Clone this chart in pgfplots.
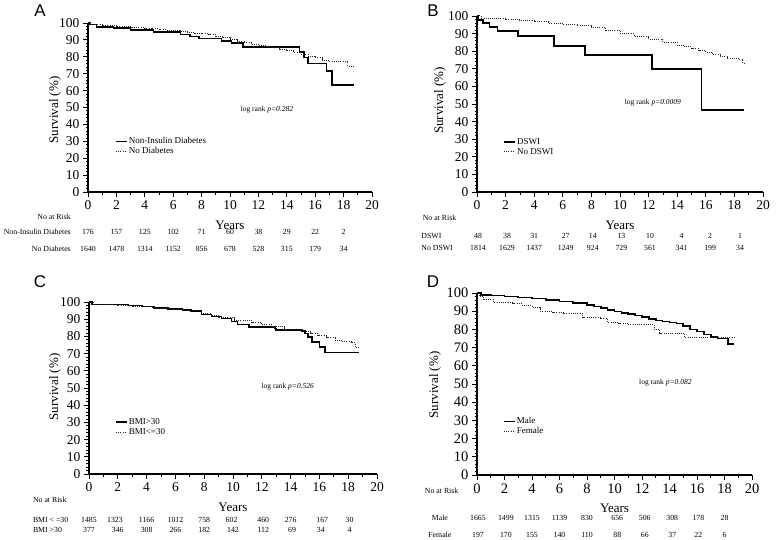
\documentclass[border=0pt]{standalone}
\usepackage{fontspec}
\setmainfont{Liberation Serif}
\newfontfamily\arialf{Liberation Sans}
\usepackage{pgfplots}
\pgfplotsset{compat=1.18}
\newcommand\riskfont{\fontsize{7.8}{8}\selectfont}
\newcommand\riskrow[2]{\foreach \xx/\vv in {#2}{\edef\tmp{\noexpand\node[font=\noexpand\riskfont,anchor=center,inner sep=0pt] at (axis cs:\xx,#1) {\vv};}\tmp}}
\pgfplotsset{km/.style={
  scale only axis, clip=false,
  xmin=0, xmax=20, ymin=0, ymax=100,
  axis x line*=bottom, axis y line*=left,
  axis line style={line width=1.3pt},
  xtick={0,2,...,20}, ytick={0,10,...,100},
  minor x tick num=1, minor y tick num=4,
  tick align=outside,
  major tick length=5pt, minor tick length=2.5pt,
  every tick/.style={black, line width=0.8pt},
  /pgf/number format/assume math mode=true,
  tick label style={font=\fontsize{13.5}{14}\selectfont},
  label style={font=\fontsize{13}{14}\selectfont},
  xlabel={Years}, ylabel={Survival (\%)},
  legend cell align=left,
  legend image code/.code={\draw[##1] (0pt,0pt) -- (11pt,0pt);},
  legend style={draw=none, fill=none, inner sep=0pt, font=\fontsize{9}{9}\selectfont, nodes={inner sep=1.2pt}, anchor=north west},
}}
\tikzset{sol/.style={const plot, black, line width=1.6pt},
         dot/.style={const plot, black!85, line width=1pt, dash pattern=on 1pt off 1.2pt}}
\begin{document}
\begin{tikzpicture}
\useasboundingbox (0,0) rectangle (778pt,-540pt);
\node[font=\arialf\fontsize{17}{17}\selectfont] at (40pt,-11pt) {A};
\node[font=\arialf\fontsize{17}{17}\selectfont] at (433pt,-11pt) {B};
\node[font=\arialf\fontsize{17}{17}\selectfont] at (40pt,-282pt) {C};
\node[font=\arialf\fontsize{17}{17}\selectfont] at (433pt,-282pt) {D};
% ---------------- A
\begin{axis}[km, at={(88pt,-192pt)}, anchor=south west, width=284pt, height=169pt,
  ylabel style={at={(axis description cs:-0.116,0.485)},anchor=center},
  xlabel style={at={(axis description cs:0.5,-0.195)},anchor=center},
  legend style={at={(axis description cs:0.095,0.331)}}]
\addplot[sol] coordinates {(0,100)(0.15,99)(0.6,97.8)(1.8,97.2)(3,96)(4.6,94.5)(6.5,93.2)(7.2,92)(7.8,90.8)(9.4,89.4)(10.1,88)(10.9,85.9)(14.9,83)(15.2,79.5)(15.5,76)(16.8,71.5)(17.2,63.4)(18.7,63.4)};
\addplot[dot] coordinates {(0,100)(0.2,99.3)(0.5,99)(1,98.5)(2,97.8)(3,97.3)(4,96.8)(4.5,96.5)(5,96)(5.5,95.8)(6,95.5)(6.5,95.2)(7,94.5)(7.5,94)(8,93.5)(8.5,93)(9,92.2)(9.5,91.2)(10,90.2)(10.5,89.2)(11,88.3)(11.5,87.5)(12,86.5)(12.5,86)(13,85.5)(13.5,84.5)(14,83.5)(14.5,82.8)(15,81.5)(15.5,80.3)(16,79.5)(16.5,78)(17,77.5)(18.3,74.5)(18.7,74.5)};
\legend{Non-Insulin Diabetes, No Diabetes}
\node[font=\fontsize{7.5}{8}\selectfont] at (axis cs:12.6,48.5) {log rank \textit{p=0.282}};
\node[font=\riskfont, anchor=east, inner sep=0pt] at (axis cs:-1.2,-14.8) {No at Risk};
\node[font=\riskfont, anchor=east, inner sep=0pt] at (axis cs:-1.2,-23.7) {Non-Insulin Diabetes};
\node[font=\riskfont, anchor=east, inner sep=0pt] at (axis cs:-1.2,-33.7) {No Diabetes};
\riskrow{-23.7}{0/176,2/157,4/125,6/102,8/71,10/60,12/38,14/29,16/22,18/2}
\riskrow{-33.7}{0/1640,2/1478,4/1314,6/1152,8/856,10/678,12/528,14/315,16/179,18/34}
\end{axis}
% ---------------- B
\begin{axis}[km, at={(477pt,-192pt)}, anchor=south west, width=286pt, height=176pt,
  ylabel style={at={(axis description cs:-0.129,0.52)},anchor=center},
  xlabel style={at={(axis description cs:0.5,-0.1875)},anchor=center},
  legend style={at={(axis description cs:0.091,0.3125)}}]
\addplot[sol] coordinates {(0,100)(0.1,97.8)(0.43,95.9)(0.87,93.9)(1.42,91.5)(2.86,88.7)(5.4,83)(7.55,77.8)(12.25,69.9)(15.7,46.6)(18.7,46.6)};
\addplot[dot] coordinates {(0,100)(0.3,98.8)(1,98.3)(2,97.8)(3,97.3)(4,96.6)(5,96)(6,95.3)(7,94.5)(8,93.3)(9,91.8)(10,89.8)(11,88.3)(12,86.8)(13,85)(14,83.3)(14.5,82.5)(15,81.6)(15.5,80.5)(16,79.2)(16.5,78)(17,76.8)(17.5,76)(18.3,75.3)(18.6,73)(18.8,73)};
\legend{DSWI, No DSWI}
\node[font=\fontsize{7.5}{8}\selectfont] at (axis cs:12.3,50.6) {log rank \textit{p=0.0009}};
\node[font=\riskfont, anchor=west, inner sep=0pt] at (axis cs:-3.8,-14.8) {No at Risk};
\node[font=\riskfont, anchor=west, inner sep=0pt] at (axis cs:-3.9,-25) {DSWI};
\node[font=\riskfont, anchor=west, inner sep=0pt] at (axis cs:-3.9,-31.8) {No DSWI};
\riskrow{-25}{0.07/48,2.1/38,4.0/31,6.2/27,8.1/14,10.1/13,12.1/10,14.3/4,16.3/2,18.4/1}
\riskrow{-31.8}{0.07/1814,2.1/1629,4.0/1437,6.2/1249,8.1/924,10.1/729,12.1/561,14.3/341,16.3/199,18.4/34}
\end{axis}
% ---------------- C
\begin{axis}[km, at={(89pt,-474pt)}, anchor=south west, width=288pt, height=172pt,
  ylabel style={at={(axis description cs:-0.118,0.506)},anchor=center},
  xlabel style={at={(axis description cs:0.5,-0.192)},anchor=center},
  legend style={at={(axis description cs:0.09,0.331)}}]
\addplot[sol] coordinates {(0,100)(0.2,98.6)(2.7,97.9)(3.7,97.3)(4.5,96.5)(5.5,95.9)(6.5,95.2)(7.1,94.8)(7.8,92.8)(8.5,91.5)(9.2,90.5)(9.9,88.6)(10.3,87)(11.1,85.3)(12.9,84.7)(13,83.7)(14.8,83.1)(15,81.8)(15.2,79.8)(15.5,76.9)(16,74)(16.4,70.7)(18.75,70.7)};
\addplot[dot] coordinates {(0,100)(0.3,98.3)(2,97.9)(3,97.2)(4.4,96.3)(5.5,95.7)(6.7,95)(7.8,93.4)(8.5,92.2)(9,90.9)(10.1,89.5)(11.3,88)(12,86.8)(12.7,85.7)(13.6,84.3)(14.8,82.8)(15.4,81.5)(15.9,80.4)(16.5,79.2)(17.1,77.9)(17.6,77)(18.2,76.2)(18.5,73.6)(18.75,73.6)};
\legend{BMI>30, BMI<=30}
\node[font=\fontsize{7.5}{8}\selectfont] at (axis cs:13.8,50.6) {log rank \textit{p=0.526}};
\node[font=\riskfont, anchor=west, inner sep=0pt] at (axis cs:-3.9,-15.1) {No at Risk};
\node[font=\riskfont, anchor=west, inner sep=0pt] at (axis cs:-3.9,-26.7) {BMI < =30};
\node[font=\riskfont, anchor=west, inner sep=0pt] at (axis cs:-3.9,-32.6) {BMI >30};
\riskrow{-26.7}{0/1485,1.8/1323,4/1166,6/1012,8/758,9.9/602,12.1/460,14/276,16.2/167,18.1/30}
\riskrow{-32.6}{0/377,2/346,4/308,6/266,8/182,10/142,12.1/112,14.1/69,16.1/34,18.1/4}
\end{axis}
% ---------------- D
\begin{axis}[km, at={(477pt,-475pt)}, anchor=south west, width=275pt, height=182pt,
  tick label style={font=\fontsize{14.5}{15}\selectfont},
  ylabel style={at={(axis description cs:-0.153,0.495)},anchor=center},
  xlabel style={at={(axis description cs:0.5,-0.181)},anchor=center},
  legend style={at={(axis description cs:0.0945,0.324)}}]
\addplot[sol] coordinates {(0,100)(0.3,99)(1,98.6)(2,98)(3,97.6)(4,97)(5,96.2)(6,95.3)(7,94.5)(8,93.5)(8.5,92.6)(9,91.6)(9.5,90.6)(10,89.8)(10.5,89)(11,88.4)(11.5,87.6)(12,86.8)(12.5,85.8)(13,85)(13.5,84.4)(14,83.8)(14.5,83.2)(15,81.8)(15.5,80)(16,78.8)(16.5,77.2)(17,75.8)(17.5,75)(18.25,72)(18.7,72)};
\addplot[dot] coordinates {(0,100)(0.2,98)(0.5,96.5)(1.2,95)(2.6,94)(3.3,93)(4,92)(4.6,90)(5.5,89.2)(6.3,88.7)(7.7,86.5)(9,86)(9.5,84)(10.3,83.3)(11,82.7)(12.9,80)(13.3,78)(15.1,75.5)(18.7,75.5)};
\legend{Male, Female}
\node[font=\fontsize{7.5}{8}\selectfont] at (axis cs:13.7,50.5) {log rank \textit{p=0.082}};
\node[font=\riskfont, anchor=west, inner sep=0pt] at (axis cs:-3.8,-8.8) {No at Risk};
\node[font=\riskfont, anchor=center, inner sep=0pt] at (axis cs:-2.7,-23.6) {Male};
\node[font=\riskfont, anchor=center, inner sep=0pt] at (axis cs:-2.7,-33) {Female};
\riskrow{-23.6}{0.07/1665,2.1/1499,4/1315,6/1139,8/830,10.2/656,12.2/506,14.2/308,16.1/178,18/28}
\riskrow{-33}{0.07/197,2.1/170,4/155,6/140,8/110,10.2/88,12.2/66,14.2/37,16.1/22,18/6}
\end{axis}
\end{tikzpicture}
\end{document}
